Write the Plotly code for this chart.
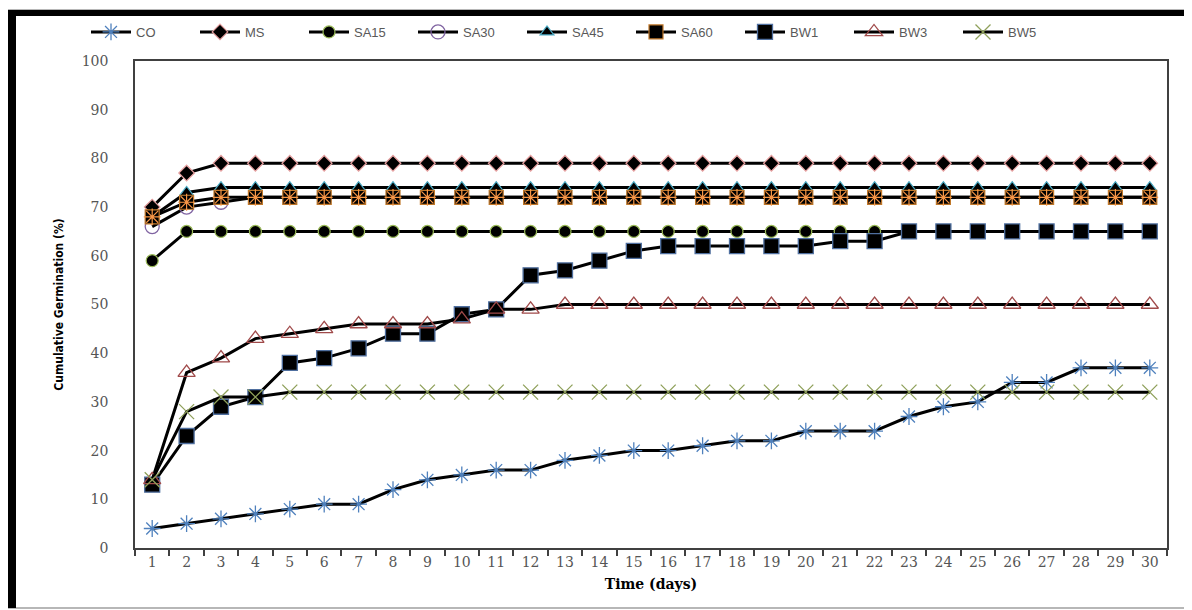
import plotly.graph_objects as go

days = [str(d) for d in range(1, 31)]

CO = [4, 5, 6, 7, 8, 9, 9, 12, 14, 15, 16, 16, 18, 19, 20, 20, 21, 22, 22, 24, 24, 24, 27, 29, 30, 34, 34, 37, 37, 37]
MS = [70, 77] + [79] * 28
SA15 = [59] + [65] * 29
SA30 = [66, 70, 71] + [72] * 27
SA45 = [68, 73] + [74] * 28
SA60 = [68, 71] + [72] * 28
BW1 = [13, 23, 29, 31, 38, 39, 41, 44, 44, 48, 49, 56, 57, 59, 61, 62, 62, 62, 62, 62, 63, 63, 65, 65, 65, 65, 65, 65, 65, 65]
BW3 = [14, 36, 39, 43, 44, 45, 46, 46, 46, 47, 49, 49] + [50] * 18
BW5 = [14, 28, 31, 31] + [32] * 26

# page is offset by the browser's 8px body margin
OFF = 8
W, H = 1192 - OFF, 610 - OFF
L, R, T, B = 135 - OFF, 1167 - OFF, 61 - OFF, 548 - OFF

def px(x):
    return (x - OFF - L) / (R - L)

def py(y):
    return (B - (y - OFF)) / (B - T)

fig = go.Figure()

def add(name, y, symbol, size, fill, edge, lw=1.5, showlegend=True):
    fig.add_trace(go.Scatter(
        x=days, y=y, name=name, mode="lines+markers", showlegend=showlegend,
        line=dict(color="black", width=3),
        marker=dict(symbol=symbol, size=size, color=fill, line=dict(color=edge, width=lw)),
    ))

add("CO", CO, "asterisk-open", 14, "#4f81bd", "#4f81bd", 1.3)
add("MS", MS, "diamond", 12, "black", "#e6a0a0", 1.2)
add("SA15", SA15, "circle", 12, "black", "#9bbb59", 1.2)
add("SA30", SA30, "circle-open", 14, "#8064a2", "#8064a2", 1.3)
add("SA45", SA45, "triangle-up", 12, "black", "#4bacc6", 1.2)
add("SA60", SA60, "square", 14, "black", "#c0782a", 1.2)
fig.add_trace(go.Scatter(
    x=days, y=SA60, mode="markers", showlegend=False, hoverinfo="skip",
    marker=dict(symbol="asterisk-open", size=14, color="#f79646", line=dict(color="#f79646", width=1.2)),
))
add("BW1", BW1, "square", 15, "black", "#4f6f9f", 1.3)
add("BW3", BW3, "triangle-up-open", 15, "#a04a4a", "#a04a4a", 1.3)
add("BW5", BW5, "x-thin-open", 15, "#8fa05a", "#8fa05a", 1.3)

axis_col = "#404040"
tick_font = dict(family="DejaVu Serif", size=14, color="#555555")

fig.update_xaxes(
    type="category", range=[-0.5, 29.5], automargin=False,
    showline=True, linecolor=axis_col, linewidth=1.5, mirror=True,
    ticks="outside", tickson="boundaries", ticklen=6, tickcolor=axis_col, tickwidth=1.5,
    showgrid=False, zeroline=False,
    tickfont=tick_font,
    title=dict(text="<b>Time (days)</b>", font=dict(family="DejaVu Serif", size=14, color="black"), standoff=11),
)
fig.update_yaxes(
    range=[0, 100], dtick=10, automargin=False,
    showline=True, linecolor=axis_col, linewidth=1.5, mirror=True,
    ticks="", showgrid=False, zeroline=False,
    tickfont=tick_font, ticklabelstandoff=22,
    title=dict(text="<b>Cumulative Germination (%)</b>",
               font=dict(family="DejaVu Sans Condensed, Liberation Sans Narrow, Liberation Sans", size=12, color="black"),
               standoff=16),
)

shapes = [
    dict(type="rect", xref="paper", yref="paper", x0=px(5), x1=px(1189), y0=py(608), y1=py(10),
         line=dict(color="#a0a0a0", width=1.5), layer="below"),
    dict(type="rect", xref="paper", yref="paper", x0=px(5), x1=px(16), y0=py(608), y1=py(10),
         line=dict(width=0), fillcolor="black"),
    dict(type="rect", xref="paper", yref="paper", x0=px(5), x1=px(1189), y0=py(16), y1=py(10),
         line=dict(width=0), fillcolor="black"),
]

fig.update_layout(
    width=W, height=H,
    margin=dict(l=L, r=W - R, t=T, b=H - B, pad=0, autoexpand=False),
    paper_bgcolor="white", plot_bgcolor="white",
    shapes=shapes,
    legend=dict(
        orientation="h", x=px(86), y=py(32), xanchor="left", yanchor="middle",
        entrywidth=54, entrywidthmode="pixels",
        font=dict(family="Liberation Sans", size=13, color="#595959"),
        bgcolor="rgba(0,0,0,0)", itemwidth=40, tracegroupgap=0,
    ),
)

fig.write_html("out.html")
